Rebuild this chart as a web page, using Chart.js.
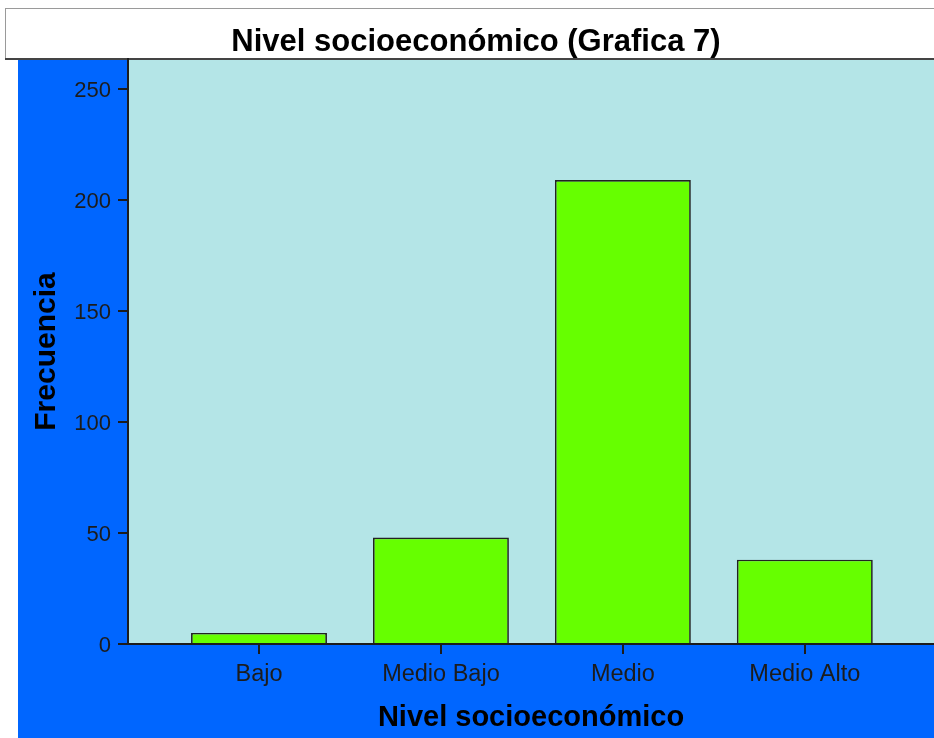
<!DOCTYPE html>
<html>
<head>
<meta charset="utf-8">
<title>Nivel socioeconómico (Grafica 7)</title>
<script src="https://cdn.jsdelivr.net/npm/chart.js@4/dist/chart.umd.min.js"></script>
<style>
  html, body { margin: 0; padding: 0; background: #fff; overflow: hidden; }
  #wrap { width: 934px; height: 738px; }
</style>
</head>
<body>
<div id="wrap"><canvas id="nivelChart" width="934" height="738"></canvas></div>
<script>
// Datos
const categories = ["Bajo", "Medio Bajo", "Medio", "Medio Alto"];
const frecuencias = [5, 48, 209, 38];
const yTicks = [0, 50, 100, 150, 200, 250];

const FONT = "'Liberation Sans', Arial, sans-serif";
const BLUE = "#0066ff";
const PLOT_BG = "#b4e5e7";
const BAR_GREEN = "#66ff00";
const INK = "#1c1c1c";

// fondo blanco, recuadro del título, panel azul y área de trazado
const fondos = {
    id: "fondos",
    beforeDraw(chart) {
        const { ctx, chartArea: a, scales: { y } } = chart;
        ctx.save();
        ctx.fillStyle = "#fff";
        ctx.fillRect(0, 0, chart.width, chart.height);

        ctx.fillStyle = BLUE;
        ctx.fillRect(y.left, a.top, chart.width - y.left, chart.height - a.top);
        ctx.fillStyle = PLOT_BG;
        ctx.fillRect(a.left, a.top, a.right - a.left, a.bottom - a.top);

        ctx.strokeStyle = "#9a9a9a";
        ctx.lineWidth = 1;
        ctx.strokeRect(5.5, 8.5, chart.width, a.top - 8);
        ctx.strokeStyle = "#444";
        ctx.lineWidth = 2;
        ctx.beginPath();
        ctx.moveTo(5, a.top);
        ctx.lineTo(chart.width, a.top);
        ctx.stroke();
        ctx.restore();
    }
};

new Chart(document.getElementById("nivelChart"), {
    type: "bar",
    data: {
        datasets: [{
            label: "Frecuencia",
            data: categories.map((c, i) => ({ x: i, y: frecuencias[i] })),
            backgroundColor: BAR_GREEN,
            borderColor: "#222",
            borderWidth: 1.7,
            categoryPercentage: 1,
            barPercentage: 0.747
        }]
    },
    options: {
        responsive: false,
        animation: false,
        layout: { padding: { left: 18, right: 0, top: 0, bottom: 0 } },
        plugins: {
            legend: { display: false },
            tooltip: { enabled: false },
            title: {
                display: true,
                text: "Nivel socioeconómico (Grafica 7)",
                color: "#000",
                font: { family: FONT, size: 31, weight: "bold", lineHeight: 1 },
                padding: { top: 26.5, bottom: 1.5 }
            }
        },
        scales: {
            x: {
                type: "linear",
                min: -0.72,
                max: 3.71,
                offset: false,
                afterBuildTicks: (s) => { s.ticks = categories.map((c, i) => ({ value: i })); },
                afterFit: (s) => { s.height = 94; },
                grid: { offset: false, drawOnChartArea: false, drawTicks: true, tickLength: 10, tickColor: INK, lineWidth: 2 },
                border: { display: true, color: INK, width: 2 },
                ticks: {
                    color: INK,
                    padding: 6,
                    font: { family: FONT, size: 23.5 },
                    callback: (v) => categories[v]
                },
                title: {
                    display: true,
                    text: "Nivel socioeconómico",
                    color: "#000",
                    font: { family: FONT, size: 29, weight: "bold" },
                    padding: { top: 0, bottom: 3 }
                }
            },
            y: {
                min: 0,
                max: 263.5,
                afterBuildTicks: (s) => { s.ticks = yTicks.map((v) => ({ value: v })); },
                afterFit: (s) => { s.width = 110; },
                grid: { drawOnChartArea: false, drawTicks: true, tickLength: 10, tickColor: INK, lineWidth: 2 },
                border: { display: true, color: INK, width: 2 },
                ticks: {
                    color: INK,
                    padding: 7,
                    labelOffset: 2,
                    font: { family: FONT, size: 22 }
                },
                title: {
                    display: true,
                    text: "Frecuencia",
                    color: "#000",
                    font: { family: FONT, size: 30, weight: "bold" },
                    padding: { top: 11, bottom: 0 }
                }
            }
        }
    },
    plugins: [fondos]
});
</script>
</body>
</html>
